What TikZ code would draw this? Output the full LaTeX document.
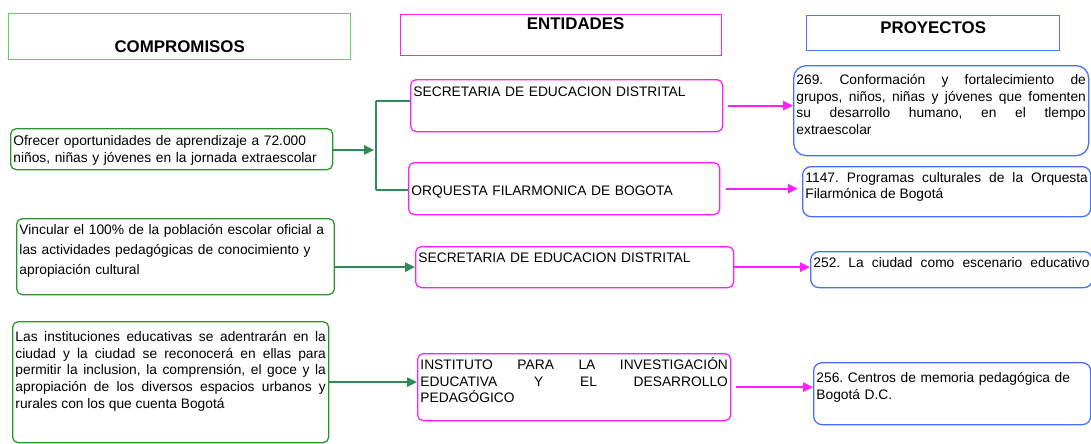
\documentclass[tikz,border=0pt]{standalone}
\usepackage{fontspec}
\setmainfont{Liberation Sans}
\usepackage{xcolor}
\usetikzlibrary{arrows.meta,positioning,calc}

\definecolor{verdetitulo}{RGB}{95,210,95}
\definecolor{verdecaja}{RGB}{40,150,40}
\definecolor{verdeflecha}{RGB}{46,139,87}
\definecolor{rosa}{RGB}{255,30,255}
\definecolor{azultitulo}{RGB}{80,120,255}
\definecolor{azulproy}{RGB}{70,110,255}

\begin{document}
\frenchspacing
\begin{tikzpicture}[
    x=0.025cm, y=-0.025cm,
    >={Triangle[length=7pt,width=6.5pt]},
    font=\fontsize{9.8}{11.8}\selectfont,
    titulo/.style={
        rectangle,
        draw=#1,
        line width=0.9pt,
        anchor=north west,
        inner sep=0pt,
        align=center,
        font=\bfseries\fontsize{12}{14}\selectfont
    },
    caja/.style={
        rectangle,
        rounded corners=4pt,
        draw=#1,
        line width=0.9pt,
        anchor=north west,
        inner xsep=2pt,
        inner ysep=0pt,
        align=left
    },
    compromiso/.style={caja=verdecaja},
    entidad/.style={caja=rosa},
    proyecto/.style={caja=azulproy, rounded corners=6pt},
    flechaverde/.style={draw=verdeflecha, line width=1.3pt, ->},
    flecharosa/.style={draw=rosa, line width=1.3pt, ->}
  ]
  \useasboundingbox (0,0) rectangle (1091,443);

  % titulos de las columnas
  \node [titulo=verdetitulo, text width=8.55cm, text height=0.975cm, text depth=0.175cm] (compromisos) at (8,13) {COMPROMISOS};
  \node [titulo=rosa, text width=8.025cm, text height=0.375cm, text depth=0.65cm] (entidades) at (400,14) {\hspace*{0.725cm}ENTIDADES};
  \node [titulo=azultitulo, text width=6.325cm, text height=0.4375cm, text depth=0.4375cm] (proyectos) at (806,15) {PROYECTOS};

  % compromisos
  \node [compromiso, text width=7.91cm, text height=0.425cm, text depth=0.6cm] (comp1) at (10,128)
  {Ofrecer oportunidades de aprendizaje a 72.000\\niños, niñas y jóvenes en la jornada extraescolar};

  \node [compromiso, text width=7.8cm, text height=0.4cm, text depth=1.5cm] (comp2) at (16,218)
  {Vincular el 100\% de la población escolar oficial a\\[2pt]las actividades pedagógicas de conocimiento y\\[2.5pt]apropiación cultural};

  \node [compromiso, align=justify, text width=7.76cm, text height=0.5cm, text depth=2.525cm] (comp3) at (12,321)
  {Las instituciones educativas se adentrarán en la \linebreak
   ciudad y la ciudad se reconocerá en ellas para \linebreak
   permitir la inclusion, la comprensión, el goce y la \linebreak
   apropiación de los diversos espacios urbanos y \linebreak
   rurales con los que cuenta Bogotá};

  % entidades
  \node [entidad, text width=7.66cm, text height=0.415cm, text depth=0.885cm] (ent1) at (410,79)
  {SECRETARIA DE EDUCACION DISTRITAL};
  \node [entidad, text width=7.635cm, text height=0.825cm, text depth=0.475cm] (ent2) at (408,162)
  {ORQUESTA FILARMONICA DE BOGOTA};
  \node [entidad, text width=7.81cm, text height=0.4cm, text depth=0.625cm] (ent3) at (415,246)
  {SECRETARIA DE EDUCACION DISTRITAL};
  \node [entidad, align=justify, text width=7.685cm, text height=0.4cm, text depth=1.275cm] (ent4) at (417,353)
  {INSTITUTO PARA LA INVESTIGACIÓN \linebreak
   EDUCATIVA Y EL DESARROLLO \linebreak
   PEDAGÓGICO};

  % proyectos
  \node [proyecto, align=justify, rounded corners=9pt, text width=7.235cm, text height=0.475cm, text depth=1.775cm] (proy1) at (793,65)
  {269. Conformación y fortalecimiento de \linebreak
   grupos, niños, niñas y jóvenes que fomenten \linebreak
   su desarrollo humano, en el tlempo \linebreak
   extraescolar};
  \node [proyecto, align=justify, text width=7.06cm, text height=0.39cm, text depth=0.86cm] (proy2) at (802,166)
  {1147. Programas culturales de la Orquesta \linebreak
   Filarmónica de Bogotá};
  \node [proyecto, text width=6.9cm, text height=0.4cm, text depth=0.5cm] (proy3) at (810,251)
  {\hbox to \hsize{252.\hfill La\hfill ciudad\hfill como\hfill escenario\hfill educativo}};
  \node [proyecto, text width=6.785cm, text height=0.5cm, text depth=1.05cm] (proy4) at (813,362)
  {256. Centros de memoria pedagógica de\\Bogotá D.C.};

  % llave y conectores
  \coordinate (llavesup) at (376,101);
  \coordinate (llaveinf) at (376,190);
  \coordinate (llavemed) at (374,150);
  \draw [verdeflecha, line width=1pt] (llavesup) -- (llaveinf);
  \draw [verdeflecha, line width=1pt] (llavesup) -- (llavesup -| ent1.west);
  \draw [verdeflecha, line width=1pt] (llaveinf) -- (llaveinf -| ent2.west);

  \draw [flechaverde] (comp1.east |- llavemed) -- (llavemed);
  \draw [flechaverde] (comp2.east |- ent3.west) -- (ent3.west);
  \draw [flechaverde] (comp3.east) -- (comp3.east -| ent4.west);

  \draw [flecharosa, shorten <=3pt] (ent1.east) -- (ent1.east -| proy1.west);
  \draw [flecharosa, shorten <=4pt, shorten >=3pt] (ent2.east) -- (ent2.east -| proy2.west);
  \draw [flecharosa] (ent3.east) -- (ent3.east -| proy3.west);
  \draw [flecharosa, shorten <=3pt] (ent4.east) -- (ent4.east -| proy4.west);
\end{tikzpicture}
\end{document}
